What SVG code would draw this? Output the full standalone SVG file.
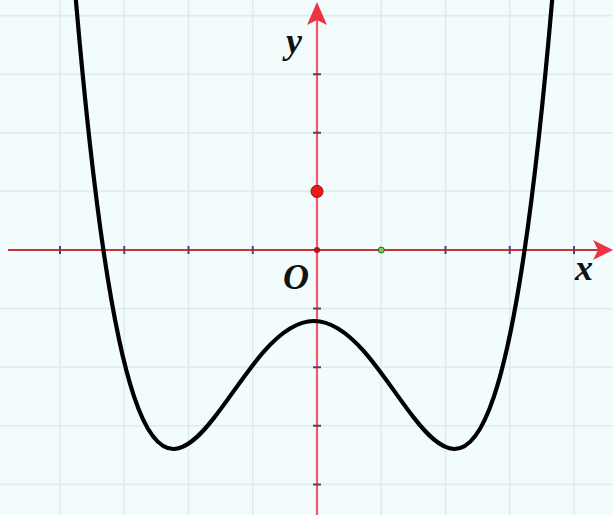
<svg xmlns="http://www.w3.org/2000/svg" width="613" height="515" viewBox="0 0 613 515">
<style>
.grid{stroke:#e0ecec;stroke-width:1.6;fill:none}
.xaxis{stroke:#d0303a;stroke-width:2;fill:none}
.yaxis{stroke:#ee5a6c;stroke-width:2.2;fill:none}
.tick{stroke:#5a3f70;stroke-width:2}
.curve{stroke:#000;stroke-width:4.2;fill:none;stroke-linecap:round}
.lbl{font-family:"Liberation Serif",serif;font-style:italic;font-weight:bold;fill:#111}
</style>
<rect width="613" height="515" fill="#f3fcfd"/>
<g id="grid" class="grid">
<path d="M60 0V515M124.25 0V515M188.5 0V515M252.75 0V515M381.25 0V515M445.5 0V515M509.75 0V515M574 0V515"/>
<path d="M0 15.6H613M0 74.2H613M0 132.8H613M0 191.4H613M0 308.6H613M0 367.2H613M0 425.8H613M0 484.4H613"/>
</g>
<g id="axes">
<line class="xaxis" x1="8" y1="250" x2="600" y2="250"/>
<line class="yaxis" x1="317" y1="515" x2="317" y2="14"/>
<path d="M613 250L593 240L598 250L593 260Z" fill="#ee3344"/>
<path d="M317 2L307 25L317 20L327 25Z" fill="#ee3344"/>
<g class="tick">
<path d="M60 246V254M124.25 246V254M188.5 246V254M252.75 246V254M445.5 246V254M509.75 246V254M574 246V254"/>
<path d="M313 74.2H321M313 132.8H321M313 308.6H321M313 367.2H321M313 425.8H321M313 484.4H321"/>
</g>
</g>
<g id="curve">
<path class="curve" d="M72,-46.1 C82.67,85.6 93.33,182.4 104,254.1 C114,321.32 124,366.46 134,396.4 C147.33,436.32 160.67,449.35 174,449 C187.33,448.65 200.67,434.92 214,417.85 C230.67,396.52 247.33,370.25 264,351.37 C280.67,332.49 297.33,321 314,321 C330.67,321 347.33,332.49 364,351.37 C380.67,370.25 397.33,396.52 414,417.85 C427.33,434.92 440.67,448.65 454,449 C467.33,449.35 480.67,436.32 494,396.4 C504,366.46 514,321.32 524,254.1 C534.67,182.4 545.33,85.6 556,-46.1"/>
</g>
<g id="points">
<circle cx="317" cy="191.4" r="6" fill="#e81c1c" stroke="#a00000" stroke-width="1"/>
<circle cx="317" cy="250" r="3" fill="#b01020"/>
<circle cx="381.25" cy="250" r="3" fill="#7ad04a" stroke="#2a6a1a" stroke-width="1"/>
</g>
<g id="labels">
<text class="lbl" x="286" y="53" font-size="36">y</text>
<text class="lbl" x="283" y="289" font-size="36">O</text>
<text class="lbl" x="575" y="280" font-size="36">x</text>
</g>
</svg>
